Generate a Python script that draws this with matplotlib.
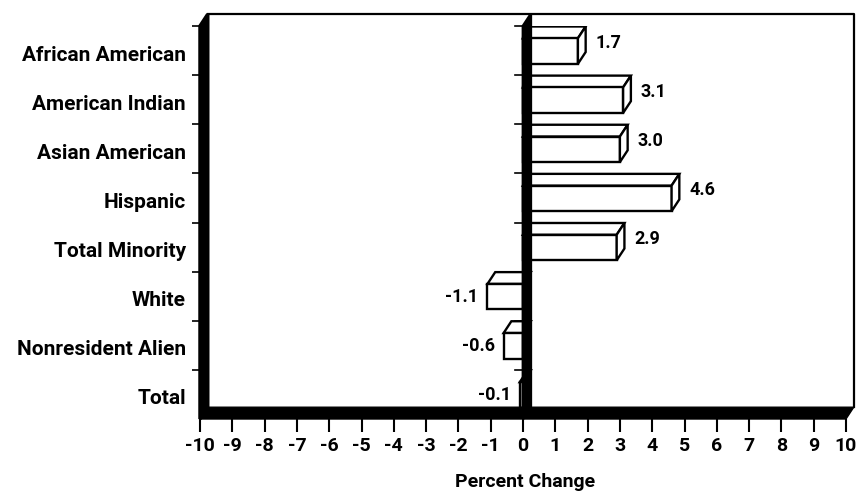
import matplotlib
matplotlib.use('Agg')
import matplotlib.pyplot as plt
from matplotlib.patches import Polygon

# data
categories = ['African American', 'American Indian', 'Asian American', 'Hispanic',
              'Total Minority', 'White', 'Nonresident Alien', 'Total']
values = [1.7, 3.1, 3.0, 4.6, 2.9, -1.1, -0.6, -0.1]
value_labels = ['1.7', '3.1', '3.0', '4.6', '2.9', '-1.1', '-0.6', '-0.1']
x_ticks = list(range(-10, 11))

plt.rcParams['font.family'] = ['Roboto', 'DejaVu Sans']
plt.rcParams['font.weight'] = 'bold'

W, H = 865, 493
fig = plt.figure(figsize=(W / 100, H / 100), dpi=100)
# axes box: x -10..10 -> px 200..846, y 0..8 -> px 419..26
ax = fig.add_axes([200 / W, (H - 419) / H, 646 / W, (419 - 26) / H])
ax.set_xlim(-10, 10)
ax.set_ylim(0, 8)
for s in ax.spines.values():
    s.set_visible(False)

n = len(categories)
ddx, ddy = 0.24, 0.24  # depth offset of the 3d look
lw = 1.7


def draw_bar(i, v):
    low = n - 1 - i
    y0, y1 = low + 0.23, low + 0.75
    front = Polygon([(0, y0), (v, y0), (v, y1), (0, y1)], closed=True,
                    facecolor='white', edgecolor='black', lw=lw, zorder=3)
    top = Polygon([(0, y1), (v, y1), (v + ddx, y1 + ddy), (ddx, y1 + ddy)], closed=True,
                  facecolor='white', edgecolor='black', lw=lw, zorder=3)
    ax.add_patch(top)
    ax.add_patch(front)
    if v > 0:
        side = Polygon([(v, y0), (v + ddx, y0 + ddy), (v + ddx, y1 + ddy), (v, y1)], closed=True,
                       facecolor='white', edgecolor='black', lw=lw, zorder=3)
        ax.add_patch(side)
        ax.text(v + ddx + 0.3, (y0 + y1) / 2 + 0.17, value_labels[i], ha='left', va='center',
                fontsize=13, fontweight='bold')
    else:
        ax.text(v - 0.28, (y0 + y1) / 2, value_labels[i], ha='right', va='center',
                fontsize=13, fontweight='bold')


# negative bars sit behind the zero wall
for i, v in enumerate(values):
    if v < 0:
        draw_bar(i, v)

# walls and floor
ax.add_patch(Polygon([(-10, 0), (-10, n), (-10 + ddx, n + ddy), (-10 + ddx, ddy)], closed=True,
                     facecolor='black', edgecolor='black', lw=2.5, zorder=4, clip_on=False))
ax.add_patch(Polygon([(0, 0), (0, n), (ddx, n + ddy), (ddx, ddy)], closed=True,
                     facecolor='black', edgecolor='black', lw=2, zorder=4, clip_on=False))
ax.add_patch(Polygon([(-10, 0), (10, 0), (10 + ddx, ddy), (-10 + ddx, ddy)], closed=True,
                     facecolor='black', edgecolor='black', lw=1, zorder=4, clip_on=False))
ax.plot([-10 + ddx, 10 + ddx, 10 + ddx], [n + ddy, n + ddy, ddy], color='black', lw=1.6,
        zorder=4, clip_on=False)

for i, v in enumerate(values):
    if v > 0:
        draw_bar(i, v)

# small ticks on the zero wall
for b in range(1, n + 1):
    ax.plot([-0.25, 0], [b, b], color='black', lw=1.2, zorder=4, clip_on=False)

ax.set_xticks(x_ticks)
ax.set_xticklabels([str(t) for t in x_ticks], fontsize=14, fontweight='bold')
ax.tick_params(axis='x', direction='out', length=9, width=1.5, pad=4)

ax.set_yticks(range(1, n + 1))
ax.set_yticklabels([])
ax.tick_params(axis='y', which='major', direction='out', length=6, width=1.2)
ax.set_yticks([n - 1 - i + 0.45 for i in range(n)], minor=True)
ax.set_yticklabels(categories, minor=True, fontsize=15, fontweight='bold')
ax.tick_params(axis='y', which='minor', length=0, pad=10)

fig.text(525 / W, 1 - 482 / H, 'Percent Change', ha='center', va='center',
         fontsize=14, fontweight='bold')

fig.savefig('out.png', dpi=100)
